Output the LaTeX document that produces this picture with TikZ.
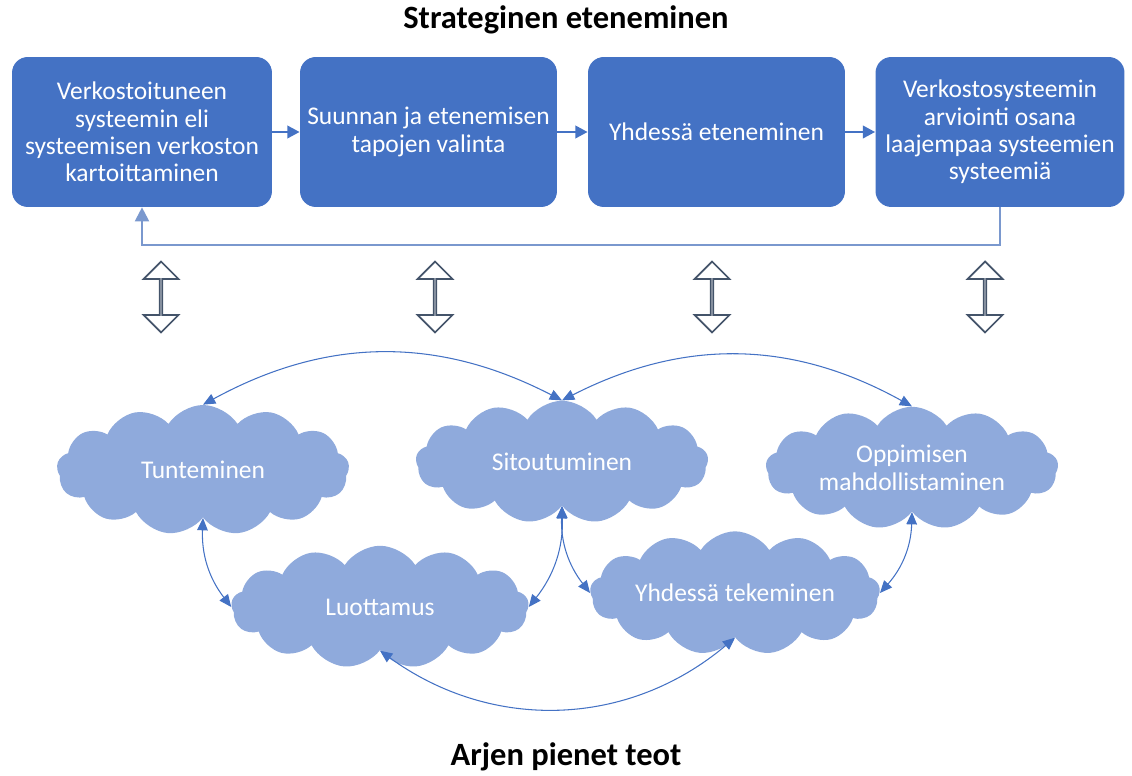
\documentclass[tikz,border=0pt]{standalone}
\usepackage{fontspec}
\setmainfont{Carlito}
\usepackage{xcolor}
\usepackage{tikz}
\usetikzlibrary{
	arrows.meta,
	shapes,
	shapes.arrows,
	shapes.symbols,
}
\definecolor{stepblue}{HTML}{4472C4}
\definecolor{cloudblue}{HTML}{8FAADC}
\definecolor{slate}{HTML}{44546A}
\definecolor{loopline}{HTML}{7A98CE}

\begin{document}
\begin{tikzpicture}[x=0.02cm, y=0.02cm,
	every node/.style={font=\fontsize{14.5}{15.6}\selectfont},
	stepbox/.style={fill=stepblue, rounded corners=9pt, text=white, align=center, minimum height=3cm, inner sep=2pt},
	puff/.style={cloud, cloud puffs=13, cloud puff arc=115, aspect=2.3, fill=cloudblue, text=white, align=center, inner sep=0pt, minimum width=5.85cm, minimum height=2.45cm},
	flow/.style={-{Triangle[length=7pt,width=7pt]}, stepblue, line width=1.6pt},
	link/.style={{Triangle[length=7pt,width=6pt]}-{Triangle[length=7pt,width=6pt]}, stepblue, line width=0.6pt},
	updown/.style={double arrow, draw=slate, fill=white, line width=1pt, rotate=90, minimum height=1.42cm, minimum width=0.7cm, double arrow head extend=0.24cm, double arrow head indent=0pt, inner sep=0pt}]
\useasboundingbox (0,0) rectangle (1132,775);

% titles
\node[font=\fontsize{18.5}{20}\selectfont\bfseries] (strat) at (566,755) {Strateginen eteneminen};
\node[font=\fontsize{18.5}{20}\selectfont\bfseries] (arki) at (566,18) {Arjen pienet teot};

% process steps
\node[stepbox, minimum width=5.2cm] (kartoitus) at (142,643) {Verkostoituneen\\systeemin eli\\systeemisen verkoston\\kartoittaminen};
\node[stepbox, minimum width=5.14cm] (valinta) at (428.5,643) {Suunnan ja etenemisen\\tapojen valinta};
\node[stepbox, minimum width=5.14cm] (eteneminen) at (716.5,643) {Yhdessä eteneminen};
\node[stepbox, minimum width=4.98cm] (arviointi) at (1000,643) {Verkostosysteemin\\arviointi osana\\laajempaa systeemien\\systeemiä};

\draw[flow] (kartoitus) -- (valinta);
\draw[flow] (valinta) -- (eteneminen);
\draw[flow] (eteneminen) -- (arviointi);
% feedback loop
\draw[-{Triangle[length=8pt,width=8pt]}, loopline, line width=1.2pt] (arviointi.south) -- ++(0,-38) -| (kartoitus.south);

% up-down arrows
\node[updown] (ud1) at (161,478) {};
\node[updown] (ud2) at (435,478) {};
\node[updown] (ud3) at (712,478) {};
\node[updown] (ud4) at (985,478) {};

% clouds
\node[puff, minimum height=2.6cm] (tunt) at (203,305) {Tunteminen};
\node[puff] (sito) at (562,313) {Sitoutuminen};
\node[puff, inner xsep=-14pt, inner ysep=-5pt] (oppi) at (912,307) {Oppimisen\\mahdollistaminen};
\node[puff, minimum width=5.95cm] (luot) at (380,168) {Luottamus};
\node[puff, minimum width=5.8cm, inner xsep=-12pt, inner ysep=-3pt] (yhde) at (735,182) {Yhdessä tekeminen};

% links
\draw[link] (tunt.north) to[bend left=28] (sito.north);
\draw[link] (sito.north) to[bend left=28] (oppi.north);
\draw[link] (tunt.south) to[bend right=20] (luot.west);
\draw[link] (luot.east) to[bend right=20] (sito.south);
\draw[link] (sito.south) to[bend right=20] (yhde.west);
\draw[link] (yhde.east) to[bend right=20] (oppi.south);
\draw[link] (luot.south) to[bend right=38] (yhde.south);
\end{tikzpicture}
\end{document}
